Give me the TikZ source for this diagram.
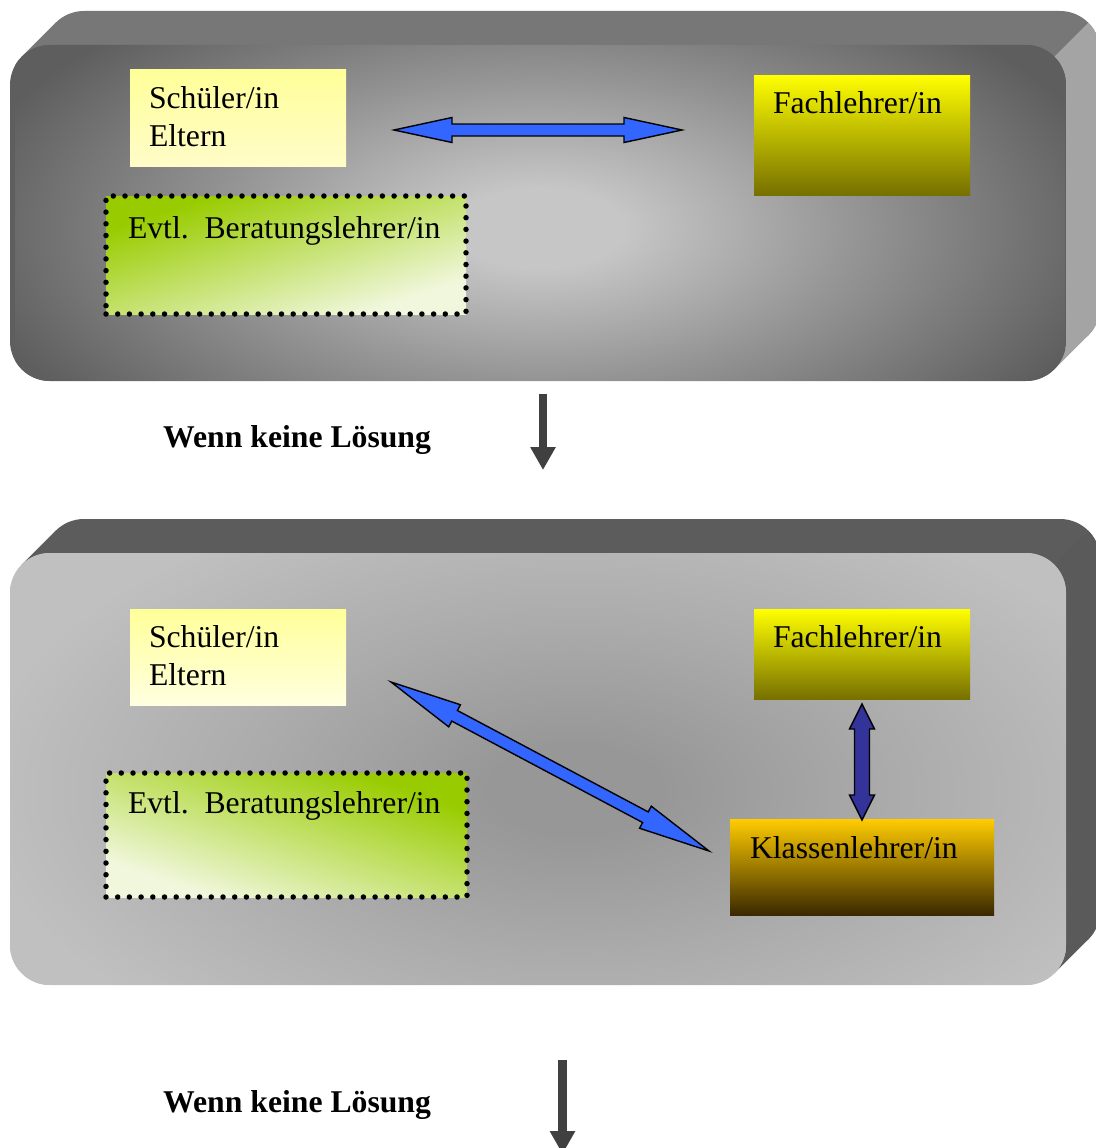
\documentclass[tikz,border=0pt]{standalone}
\usepackage{fontspec}
\setmainfont{Liberation Serif}
\usetikzlibrary{calc,arrows.meta}
\definecolor{tglowin}{HTML}{C6C6C6}
\definecolor{tglowmid}{HTML}{959595}
\definecolor{tglowout}{HTML}{5E5E5E}
\definecolor{bglowin}{HTML}{979797}
\definecolor{bglowmid}{HTML}{ABABAB}
\definecolor{bglowout}{HTML}{C0C0C0}
\definecolor{ttop}{HTML}{777777}
\definecolor{tside}{HTML}{A4A4A4}
\definecolor{btop}{HTML}{5C5C5C}
\definecolor{bside}{HTML}{5A5A5A}
\definecolor{paleA}{HTML}{FFFF99}
\definecolor{paleB}{HTML}{FFFCC8}
\definecolor{paleC}{HTML}{FFFFE0}
\definecolor{yelA}{HTML}{FFFF00}
\definecolor{yelB}{HTML}{767000}
\definecolor{orgA}{HTML}{FFCC00}
\definecolor{orgB}{HTML}{3A2800}
\definecolor{grnA}{HTML}{99CC00}
\definecolor{grnB}{HTML}{F0F7DC}
\definecolor{arrblue}{HTML}{3366FF}
\definecolor{arrnavy}{HTML}{333399}
\definecolor{downgray}{HTML}{404040}
\pgfdeclareradialshading{topglow}{\pgfpoint{0bp}{0bp}}{color(0bp)=(tglowin); color(4bp)=(tglowin); color(15bp)=(tglowmid); color(28bp)=(tglowout); color(50bp)=(tglowout)}
\pgfdeclareradialshading{botglow}{\pgfpoint{0bp}{0bp}}{color(0bp)=(bglowin); color(3.75bp)=(bglowin); color(14bp)=(bglowmid); color(26.25bp)=(bglowout); color(50bp)=(bglowout)}
% #1 x0, #2 y0, #3 width, #4 height, #5 top colour, #6 side colour
\newcommand\slab[6]{%
  \begin{scope}[shift={(#1,#2)}]
    \fill[#5, rounded corners=40pt] (34,-34) rectangle (#3+34,#4-34);
    \fill[#5] (11.716,11.716) -- (45.716,-22.284) -- (74,6) -- (40,40) -- cycle;
    \fill[#6] ({#3-11.716},11.716) arc[start angle=-45,end angle=0,radius=40]
      -- (#3,#4-40) arc[start angle=0,end angle=45,radius=40]
      -- ++(34,-34) arc[start angle=45,end angle=0,radius=40]
      -- (#3+34,6) arc[start angle=0,end angle=-45,radius=40] -- cycle;
  \end{scope}}
% elliptic glow: #1 shading, #2 cx, #3 cy, #4 xscale, #5 yscale
\newcommand\glow[5]{%
  \begin{scope}[transform canvas={shift={(#2,#3)}, xscale=#4, yscale=#5}]
    \shade[shading=#1] (-50,-50) rectangle (50,50);
  \end{scope}}
% corner-to-corner gradient: #1 cx, #2 cy, #3 w/100, #4 h/100, #5 angle
\newcommand\diaggrad[5]{%
  \begin{scope}[transform canvas={shift={(#1,#2)}, xscale=#3, yscale=#4}]
    \shade[top color=grnA, bottom color=grnB, shading angle=#5] (-50,-50) rectangle (50,50);
  \end{scope}}
% #1 width, #2 height, #3 left pad, #4 first baseline, #5 text
\newcommand\btext[5]{\parbox[c][#2pt][t]{#1pt}{\raggedright\leftskip=#3pt\relax\rule{0pt}{#4pt}#5}}
% #1 from, #2 to, #3 head length, #4 head half width, #5 shaft half width, #6 style
\newcommand\blockarrow[6]{%
  \coordinate (ba1) at ($(#1)!#3pt!(#2)$);
  \coordinate (ba2) at ($(#2)!#3pt!(#1)$);
  \draw[#6] (#1) -- ($(ba1)!#4pt!90:(#2)$) -- ($(ba1)!#5pt!90:(#2)$)
    -- ($(ba2)!#5pt!-90:(#1)$) -- ($(ba2)!#4pt!-90:(#1)$) -- (#2)
    -- ($(ba2)!#4pt!90:(#1)$) -- ($(ba2)!#5pt!90:(#1)$)
    -- ($(ba1)!#5pt!-90:(#2)$) -- ($(ba1)!#4pt!-90:(#2)$) -- cycle;}
\begin{document}
\begin{tikzpicture}[x=1pt,y=-1pt,
  every node/.style={font=\fontsize{31.7}{38}\selectfont},
  box/.style={inner sep=0pt, outer sep=0pt, anchor=north west},
  dotbox/.style={box, draw=black, line width=5.5pt, dash pattern=on 0pt off 11.7pt, line cap=round},
  barrow/.style={draw=black, line width=1.4pt, line join=miter, fill=#1},
  darrow/.style={draw=downgray, line width=#1, -{Triangle[width=24pt,length=23pt]}},
  lab/.style={inner sep=0pt, anchor=base west, font={\fontsize{31.7}{38}\selectfont\bfseries}}]
\useasboundingbox (0,0) rectangle (1095,1148);
\fill[white] (0,0) rectangle (1095,1148);

% ---- top slab ----
\slab{10}{45}{1056}{336}{ttop}{tside}
\begin{scope}
  \clip[rounded corners=40pt] (10,45) rectangle (1066,381);
  \fill[tglowout] (10,45) rectangle (1066,381);
  \glow{topglow}{540}{228}{10.5}{5}
\end{scope}

% ---- bottom slab ----
\slab{10}{553}{1056}{432}{btop}{bside}
\begin{scope}
  \clip[rounded corners=40pt] (10,553) rectangle (1066,985);
  \fill[bglowout] (10,553) rectangle (1066,985);
  \glow{botglow}{575}{790}{11.4}{5.9}
\end{scope}

% ---- top slab contents ----
\node[box, top color=paleA, bottom color=paleB] (se1) at (130,70)
  {\btext{216}{96}{19}{38}{Schüler/in\\Eltern}};
\node[box, top color=yelA, bottom color=yelB] (fl1) at (754,75)
  {\btext{216}{120}{19}{38}{Fachlehrer/in}};
\diaggrad{286}{255}{3.6}{1.18}{45}
\node[dotbox] (be1) at (106,196)
  {\btext{360}{118}{22}{42}{Evtl.\ \ Beratungslehrer/in}};
\coordinate (h1) at ($(se1.east)+(48,12)$);
\coordinate (h2) at ($(fl1.west)+(-72,-5)$);
\blockarrow{h1}{h2}{58}{12.5}{6}{barrow=arrblue}

% ---- transition 1 ----
\node[lab] (w1) at (163,447) {Wenn keine Lösung};
\coordinate (a1) at (543,394);
\coordinate (a2) at (543,470);
\draw[darrow=8pt] (a1) -- (a2);

% ---- bottom slab contents ----
\node[box, top color=paleA, bottom color=paleC] (se2) at (130,609)
  {\btext{216}{96}{19}{38}{Schüler/in\\Eltern}};
\node[box, top color=yelA, bottom color=yelB] (fl2) at (754,609)
  {\btext{216}{90}{19}{38}{Fachlehrer/in}};
\diaggrad{286.5}{835}{3.61}{1.24}{-45}
\node[dotbox] (be2) at (106,773)
  {\btext{361}{124}{22}{40}{Evtl.\ \ Beratungslehrer/in}};
\node[box, top color=orgA, bottom color=orgB] (kl) at (730,819)
  {\btext{264}{96}{20}{39}{Klassenlehrer/in}};
\coordinate (d1) at ($(se2.south east)+(45,-23)$);
\coordinate (d2) at ($(kl.west)+(-21,-16)$);
\blockarrow{d1}{d2}{72}{12.5}{6}{barrow=arrblue}
\coordinate (v1) at ($(fl2.south)+(0,5)$);
\coordinate (v2) at ($(kl.north)+(0,1)$);
\blockarrow{v1}{v2}{25}{12.5}{7.5}{barrow=arrnavy}

% ---- transition 2 ----
\node[lab] (w2) at (163,1112) {Wenn keine Lösung};
\coordinate (a3) at (562.5,1060);
\coordinate (a4) at (562.5,1154);
\draw[darrow=9pt] (a3) -- (a4);
\end{tikzpicture}
\end{document}
